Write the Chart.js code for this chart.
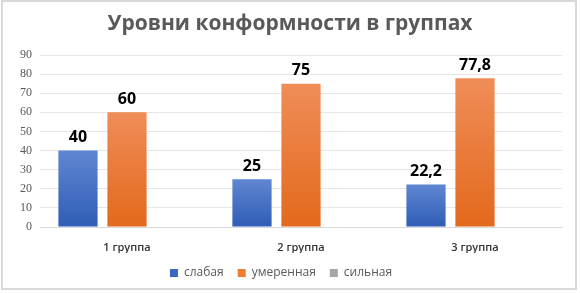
<!DOCTYPE html>
<html>
<head>
<meta charset="utf-8">
<script src="https://cdn.jsdelivr.net/npm/chart.js@4/dist/chart.umd.min.js"></script>
<style>
html,body{margin:0;padding:0;background:#fff;}
#wrap{position:relative;width:580px;height:293px;}
</style>
</head>
<body>
<div id="wrap"><canvas id="c" width="580" height="293"></canvas></div>
<script>
const categories = ["1 группа", "2 группа", "3 группа"];
const seriesNames = ["слабая", "умеренная", "сильная"];
const weak = [40, 25, 22.2];
const moderate = [60, 75, 77.8];
const strong = [null, null, null];
const yTicks = [0, 10, 20, 30, 40, 50, 60, 70, 80, 90];
const titleText = "Уровни конформности в группах";

function grad(top, bottom) {
  return function(ctx) {
    const chart = ctx.chart;
    const area = chart.chartArea;
    if (!area || ctx.type !== 'data') return bottom;
    const v = ctx.raw;
    if (v == null) return bottom;
    const yTop = chart.scales.y.getPixelForValue(v);
    const g = chart.ctx.createLinearGradient(0, yTop, 0, area.bottom);
    g.addColorStop(0, top);
    g.addColorStop(1, bottom);
    return g;
  };
}

const decor = {
  id: 'decor',
  beforeDraw(chart) {
    const c = chart.ctx;
    c.save();
    c.fillStyle = '#fff';
    c.fillRect(0, 0, chart.width, chart.height);
    c.strokeStyle = '#d9d9d9';
    c.lineWidth = 2;
    c.strokeRect(2, 1, 574, 288);
    c.fillStyle = '#595959';
    c.font = 'bold 21px "Open Sans", sans-serif';
    c.textAlign = 'center';
    c.textBaseline = 'middle';
    c.fillText(titleText, 290, 24);
    c.restore();
  },
  afterDatasetsDraw(chart) {
    const c = chart.ctx;
    c.save();
    c.fillStyle = '#000';
    c.font = 'bold 16px "Open Sans", sans-serif';
    c.textAlign = 'center';
    c.textBaseline = 'bottom';
    chart.data.datasets.forEach((ds, i) => {
      const meta = chart.getDatasetMeta(i);
      meta.data.forEach((el, j) => {
        const v = ds.data[j];
        if (v == null) return;
        c.fillText(String(v).replace('.', ','), el.x, el.y - 5);
      });
    });
    c.restore();
  }
};

new Chart(document.getElementById('c'), {
  type: 'bar',
  data: {
    labels: categories,
    datasets: [
      { label: seriesNames[0], data: weak, backgroundColor: grad('#5f86d2', '#2f5db5'), borderWidth: 0 },
      { label: seriesNames[1], data: moderate, backgroundColor: grad('#f08d58', '#e3691c'), borderWidth: 0 },
      { label: seriesNames[2], data: strong, backgroundColor: '#a5a5a5', borderWidth: 0 }
    ]
  },
  options: {
    responsive: false,
    animation: false,
    layout: { padding: { top: 55, left: 0, right: 18, bottom: 4 } },
    datasets: { bar: { categoryPercentage: 0.845, barPercentage: 0.8 } },
    plugins: {
      title: { display: false },
      tooltip: { enabled: false },
      legend: {
        position: 'bottom',
        labels: {
          boxWidth: 8, boxHeight: 8, padding: 14,
          color: '#595959',
          font: { family: '"Open Sans", sans-serif', size: 12 },
          generateLabels(chart) {
            const cols = ['#3a67bd', '#ed7d31', '#a5a5a5'];
            return chart.data.datasets.map((ds, i) => ({
              text: ds.label, fillStyle: cols[i], strokeStyle: cols[i], lineWidth: 0,
              fontColor: '#595959', datasetIndex: i, hidden: false
            }));
          }
        }
      }
    },
    scales: {
      x: {
        grid: { display: false },
        border: { display: true, color: '#d9d9d9' },
        ticks: { color: '#333333', font: { family: '"Open Sans", sans-serif', size: 11, weight: '600' }, padding: 6 },
        afterFit(s) { s.height = 26; }
      },
      y: {
        min: 0, max: 90,
        afterBuildTicks(s) { s.ticks = yTicks.map(v => ({ value: v })); },
        grid: { color: '#e6e6e6', drawTicks: false },
        border: { display: false },
        ticks: { color: '#595959', font: { family: '"Liberation Serif", serif', size: 12 }, padding: 8 },
        afterFit(s) { s.width = 40; }
      }
    }
  },
  plugins: [decor]
});
</script>
</body>
</html>
